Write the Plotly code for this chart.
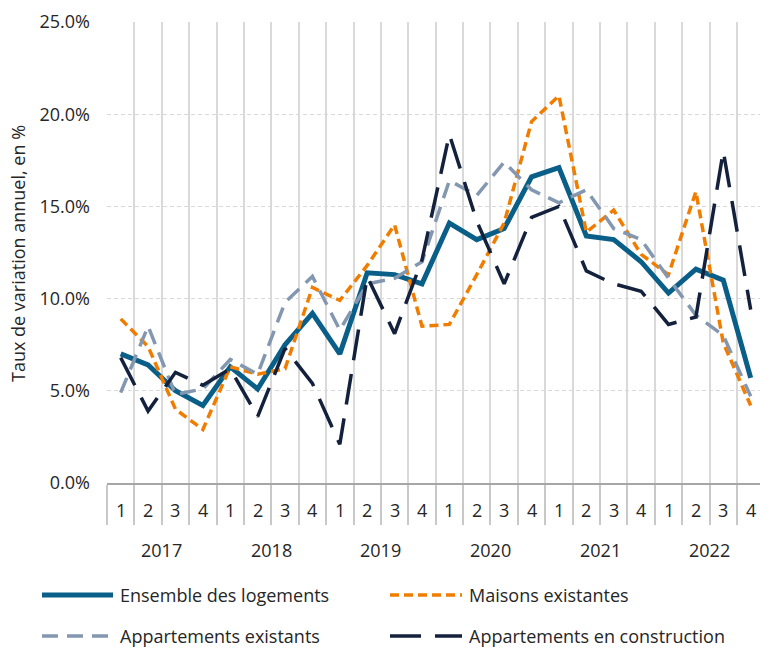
import plotly.graph_objects as go

years = ["2017", "2018", "2019", "2020", "2021", "2022"]
quarters = ["1", "2", "3", "4"]

ensemble = [7.0, 6.4, 5.0, 4.2, 6.3, 5.1, 7.5, 9.2, 7.0, 11.4, 11.3, 10.8,
            14.1, 13.2, 13.8, 16.6, 17.1, 13.4, 13.2, 12.0, 10.3, 11.6, 11.0, 5.7]
maisons = [8.9, 7.4, 4.0, 2.9, 6.3, 5.9, 6.2, 10.6, 9.9, 11.8, 14.0, 8.5,
           8.6, 11.3, 14.1, 19.6, 21.0, 13.6, 14.8, 12.4, 11.3, 15.8, 7.6, 4.2]
appart_exist = [4.9, 8.5, 4.8, 5.1, 6.7, 5.9, 9.8, 11.2, 8.3, 10.8, 11.1, 12.0,
                16.4, 15.6, 17.4, 15.9, 15.2, 15.9, 13.8, 13.2, 11.1, 9.1, 8.0, 4.7]
appart_constr = [6.8, 3.9, 6.0, 5.3, 6.2, 3.6, 7.3, 5.4, 2.1, 11.2, 8.1, 12.1,
                 18.9, 14.2, 10.8, 14.4, 15.0, 11.5, 10.8, 10.4, 8.6, 9.0, 18.0, 9.4]

y_tick_values = [0, 5, 10, 15, 20, 25]
y_tick_labels = ["0.0%", "5.0%", "10.0%", "15.0%", "20.0%", "25.0%"]
y_title = "Taux de variation annuel, en %"

series_names = ["Ensemble des logements", "Maisons existantes",
                "Appartements existants", "Appartements en construction"]
series_values = [ensemble, maisons, appart_exist, appart_constr]
series_colors = ["#0A5F88", "#F07D00", "#8497B0", "#14213D"]
series_widths = [5, 3.5, 3.5, 3.5]
series_dash = ["solid", "9px,5px", "16px,9px", "31px,14px"]

FONT = "Open Sans"
TXT = "#262626"
W, H = 760, 648
ML, MR, MT, MB = 107, 0, 22, 165
PW, PH = W - ML - MR, H - MT - MB

n = len(years) * len(quarters)
xs = list(range(n))
cat_w = 27.39
x0 = -0.5
x1 = x0 + PW / cat_w

fig = go.Figure()
for name, vals, col, wd, dsh in zip(series_names, series_values, series_colors,
                                    series_widths, series_dash):
    fig.add_trace(go.Scatter(x=xs, y=vals, mode="lines", name=name,
                             line=dict(color=col, width=wd, dash=dsh),
                             showlegend=False))

def py(pix):
    return (MT + PH - pix) / PH

def px(pix):
    return (pix - ML) / PW

annotations = []
# quarter labels
for i in xs:
    annotations.append(dict(x=i, y=py(510), xref="x", yref="paper",
                            text=quarters[i % 4], showarrow=False,
                            font=dict(family=FONT, size=18, color=TXT),
                            xanchor="center", yanchor="middle"))
# year labels
for k, yr in enumerate(years):
    annotations.append(dict(x=4 * k + 1.5, y=py(550), xref="x", yref="paper",
                            text=yr, showarrow=False,
                            font=dict(family=FONT, size=18, color=TXT),
                            xanchor="center", yanchor="middle"))
# y axis title
annotations.append(dict(x=px(18), y=py(254), xref="paper", yref="paper",
                        text=y_title, textangle=-90,
                        showarrow=False, font=dict(family=FONT, size=18, color=TXT),
                        xanchor="center", yanchor="middle"))

# legend (manual, two columns)
leg_pos = [(42, 113, 118, 595), (390, 462, 467, 595),
           (42, 113, 118, 636), (390, 462, 467, 636)]
shapes = []
for (sx0, sx1, tx, ly), name, col, wd, dsh in zip(leg_pos, series_names, series_colors,
                                                   series_widths, series_dash):
    shapes.append(dict(type="line", xref="paper", yref="paper",
                       x0=px(sx0), x1=px(sx1), y0=py(ly), y1=py(ly),
                       line=dict(color=col, width=wd, dash=dsh)))
    annotations.append(dict(x=px(tx), y=py(ly), xref="paper", yref="paper",
                            text=name, showarrow=False,
                            font=dict(family=FONT, size=18, color=TXT),
                            xanchor="left", yanchor="middle"))

year_bounds = [4 * k - 0.5 for k in range(len(years) + 1)]
quarter_bounds = [i - 0.5 for i in range(n + 1)]

fig.update_layout(
    width=W, height=H, autosize=False,
    margin=dict(l=ML, r=MR, t=MT, b=MB, pad=0),
    paper_bgcolor="white", plot_bgcolor="white",
    font=dict(family=FONT, size=18, color=TXT),
    annotations=annotations, shapes=shapes,
    xaxis=dict(range=[x0, x1], tickmode="array", tickvals=year_bounds,
               ticktext=[""] * len(year_bounds), showticklabels=False,
               showgrid=True, gridcolor="#D9D9D9", gridwidth=1.5,
               ticks="outside", ticklen=80, tickcolor="#C8C8C8", tickwidth=1.5,
               minor=dict(tickmode="array", tickvals=quarter_bounds, ticks="outside",
                          ticklen=40, tickcolor="#C8C8C8", tickwidth=1.5,
                          showgrid=True, gridcolor="#D9D9D9", gridwidth=1.5),
               showline=True, linecolor="#A6A6A6", linewidth=1.5,
               zeroline=False, fixedrange=True),
    yaxis=dict(range=[0, 25], tickmode="array", tickvals=y_tick_values,
               ticktext=y_tick_labels, showgrid=True,
               gridcolor="#D9D9D9", gridwidth=1, griddash="4px,3px",
               zeroline=False, showline=False, ticks="",
               ticklabelstandoff=16, tickfont=dict(family=FONT, size=18, color=TXT),
               fixedrange=True),
)

fig.write_html("out.html", config={"displayModeBar": False})
with open("out.html", "r", encoding="utf-8") as f:
    html = f.read()
html = html.replace("<head>", "<head><style>body{margin:0;padding:0;}</style>", 1)
with open("out.html", "w", encoding="utf-8") as f:
    f.write(html)
